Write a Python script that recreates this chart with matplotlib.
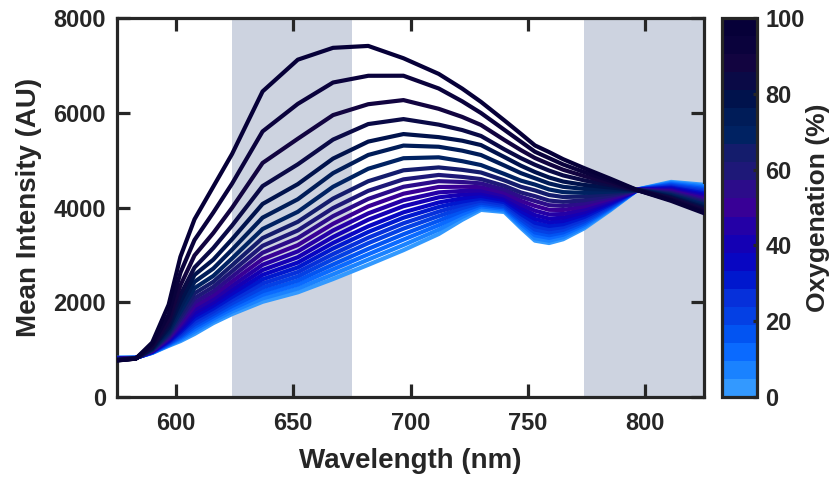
import numpy as np
import matplotlib
matplotlib.use('Agg')
import matplotlib.pyplot as plt
from matplotlib.colors import ListedColormap, Normalize
from matplotlib.cm import ScalarMappable

plt.rcParams['font.family'] = ['Liberation Sans', 'DejaVu Sans']
plt.rcParams['font.weight'] = 'bold'

# oxygenation levels (%), one spectrum each
oxygenation = [0, 5, 10, 15, 20, 25, 30, 35, 40, 45, 50, 55, 60, 65, 70, 75, 80, 85, 90, 95, 100]

wavelengths = [575, 583, 590, 597, 602, 608, 616, 624, 637, 652, 667, 682, 697,
               712, 722, 730, 740, 747, 753, 759, 765, 774, 785, 797, 811, 825]

# mean intensity (AU) at each wavelength, ordered 0 % -> 100 % oxygenation
nm575 = [830, 827, 824, 821, 818, 815, 812, 809, 806, 803, 800, 797, 794, 791, 788, 785, 782, 779, 776, 773, 770]
nm583 = [830, 829, 828, 827, 826, 825, 824, 823, 822, 821, 820, 819, 818, 817, 816, 815, 814, 813, 812, 811, 810]
nm590 = [930, 934, 937, 941, 945, 949, 954, 958, 963, 969, 975, 981, 989, 997, 1006, 1018, 1032, 1051, 1075, 1108, 1150]
nm597 = [1080, 1093, 1107, 1121, 1136, 1151, 1168, 1185, 1204, 1224, 1246, 1271, 1298, 1328, 1364, 1408, 1461, 1531, 1621, 1744, 1950]
nm602 = [1180, 1208, 1239, 1269, 1301, 1335, 1370, 1408, 1449, 1493, 1541, 1595, 1653, 1719, 1796, 1892, 2008, 2159, 2355, 2622, 2960]
nm608 = [1330, 1378, 1429, 1480, 1533, 1589, 1647, 1708, 1773, 1843, 1918, 2000, 2087, 2187, 2298, 2431, 2576, 2734, 2988, 3314, 3750]
nm616 = [1560, 1606, 1655, 1704, 1756, 1811, 1868, 1929, 1995, 2067, 2145, 2231, 2326, 2433, 2556, 2712, 2899, 3144, 3461, 3893, 4440]
nm624 = [1750, 1804, 1862, 1920, 1981, 2046, 2114, 2185, 2263, 2348, 2440, 2542, 2654, 2780, 2926, 3110, 3331, 3620, 3994, 4504, 5130]
nm637 = [2010, 2081, 2157, 2232, 2312, 2396, 2485, 2578, 2680, 2791, 2911, 3045, 3191, 3355, 3546, 3786, 4075, 4452, 4940, 5606, 6450]
nm652 = [2210, 2289, 2372, 2456, 2544, 2637, 2735, 2838, 2951, 3074, 3207, 3354, 3516, 3698, 3909, 4174, 4493, 4911, 5451, 6187, 7120]
nm667 = [2490, 2588, 2695, 2797, 2910, 3017, 3134, 3251, 3378, 3515, 3656, 3817, 3988, 4188, 4437, 4725, 5032, 5433, 5950, 6638, 7370]
nm682 = [2790, 2901, 3012, 3127, 3247, 3363, 3483, 3603, 3742, 3876, 4024, 4181, 4352, 4555, 4818, 5109, 5391, 5761, 6180, 6780, 7410]
nm697 = [3100, 3209, 3323, 3436, 3554, 3667, 3784, 3898, 4027, 4153, 4291, 4437, 4594, 4785, 5040, 5307, 5550, 5866, 6267, 6781, 7150]
nm712 = [3440, 3531, 3626, 3721, 3819, 3913, 4011, 4106, 4214, 4319, 4434, 4555, 4687, 4846, 5059, 5282, 5485, 5749, 6083, 6512, 6820]
nm722 = [3740, 3801, 3862, 3926, 3989, 4056, 4125, 4194, 4272, 4349, 4438, 4538, 4646, 4795, 4978, 5200, 5410, 5635, 5912, 6241, 6510]
nm730 = [3950, 3986, 4025, 4064, 4103, 4148, 4196, 4246, 4303, 4360, 4429, 4509, 4600, 4739, 4896, 5108, 5318, 5510, 5742, 5995, 6230]
nm740 = [3905, 3936, 3969, 4002, 4034, 4073, 4114, 4156, 4204, 4253, 4311, 4378, 4456, 4573, 4707, 4886, 5064, 5226, 5424, 5638, 5837]
nm747 = [3570, 3610, 3657, 3705, 3753, 3808, 3864, 3925, 3991, 4063, 4142, 4227, 4317, 4438, 4567, 4726, 4883, 5042, 5212, 5389, 5556]
nm753 = [3300, 3350, 3413, 3473, 3535, 3606, 3678, 3758, 3841, 3933, 4034, 4136, 4239, 4361, 4484, 4617, 4749, 4902, 5045, 5177, 5310]
nm759 = [3250, 3298, 3358, 3415, 3475, 3542, 3611, 3688, 3766, 3855, 3951, 4049, 4147, 4264, 4381, 4508, 4634, 4780, 4917, 5043, 5170]
nm765 = [3330, 3372, 3425, 3475, 3528, 3587, 3648, 3715, 3785, 3862, 3947, 4033, 4119, 4222, 4325, 4437, 4548, 4677, 4797, 4908, 5020]
nm774 = [3560, 3592, 3631, 3669, 3709, 3753, 3799, 3850, 3902, 3960, 4024, 4088, 4153, 4231, 4308, 4392, 4476, 4572, 4662, 4746, 4830]
nm785 = [3940, 3957, 3978, 3998, 4018, 4042, 4066, 4093, 4120, 4151, 4185, 4219, 4253, 4294, 4335, 4379, 4423, 4474, 4522, 4566, 4610]
nm797 = [4385, 4384, 4382, 4381, 4380, 4379, 4377, 4376, 4375, 4374, 4372, 4371, 4370, 4369, 4367, 4366, 4365, 4364, 4362, 4361, 4360]
nm811 = [4540, 4520, 4500, 4480, 4460, 4440, 4420, 4400, 4380, 4360, 4340, 4320, 4300, 4280, 4260, 4240, 4220, 4200, 4180, 4160, 4140]
nm825 = [4480, 4450, 4420, 4390, 4360, 4330, 4300, 4270, 4240, 4210, 4180, 4150, 4120, 4090, 4060, 4030, 4000, 3970, 3940, 3910, 3880]

columns = [nm575, nm583, nm590, nm597, nm602, nm608, nm616, nm624, nm637, nm652, nm667, nm682, nm697,
           nm712, nm722, nm730, nm740, nm747, nm753, nm759, nm765, nm774, nm785, nm797, nm811, nm825]

# one colour per oxygenation level, 0 % -> 100 %
line_colors = ['#3399FF', '#1A82FF', '#0A6AFF', '#0254F2', '#0440E4', '#0630DA', '#0018CE',
               '#0806C2', '#1400B4', '#2400A6', '#380096', '#2C0C8A', '#1E1878', '#141C6C',
               '#002262', '#001C58', '#00124C', '#0A0A46', '#120440', '#0A023C', '#060038']

shaded_bands = [(624, 675), (774, 825)]

ink = '#262626'
fig = plt.figure(figsize=(8.4, 4.82), dpi=100)
ax = fig.add_axes([0.1393, 0.1763, 0.6988, 0.7864])
cax = fig.add_axes([0.8595, 0.1763, 0.0417, 0.7864])

for lo, hi in shaded_bands:
    ax.axvspan(lo, hi, color='#CDD3E0', lw=0, zorder=0)

spectra = np.array(columns).T
for i, ox in enumerate(oxygenation):
    ax.plot(wavelengths, spectra[i], color=line_colors[i], lw=3,
            solid_joinstyle='round', zorder=2 + i)

ax.set_xlim(575, 825)
ax.set_ylim(0, 8000)
ax.set_xticks([600, 650, 700, 750, 800])
ax.set_yticks([0, 2000, 4000, 6000, 8000])
for s in ax.spines.values():
    s.set_linewidth(2.3)
    s.set_color(ink)
ax.tick_params(direction='in', length=9.5, width=2.3, color=ink, labelcolor=ink,
               labelsize=17, top=True, right=True)
ax.tick_params(axis='x', pad=11)
ax.tick_params(axis='y', pad=8)
ax.set_xlabel('Wavelength (nm)', fontsize=20, fontweight='bold', color=ink, labelpad=9)
ax.set_ylabel('Mean Intensity (AU)', fontsize=20, fontweight='bold', color=ink, labelpad=8)

sm = ScalarMappable(norm=Normalize(0, 100), cmap=ListedColormap(line_colors))
cb = fig.colorbar(sm, cax=cax, ticks=[0, 20, 40, 60, 80, 100])
cb.outline.set_linewidth(2.3)
cb.outline.set_edgecolor(ink)
cax.tick_params(direction='in', length=3, width=2.3, color=ink, labelcolor=ink,
                labelsize=17, pad=6)
cb.set_label('Oxygenation (%)', fontsize=19, fontweight='bold', color=ink, labelpad=1)

fig.savefig('out.png', dpi=100)
